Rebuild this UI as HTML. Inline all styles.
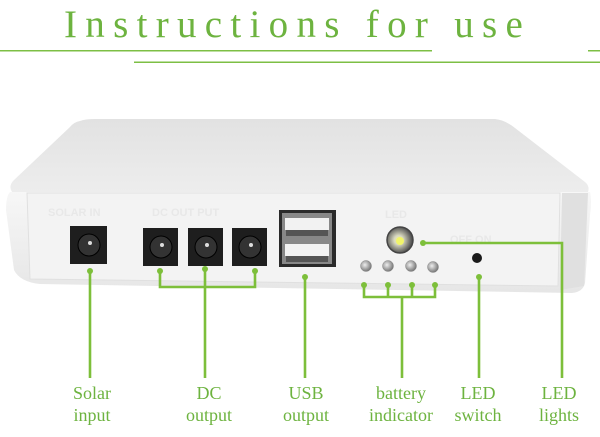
<!DOCTYPE html>
<html><head><meta charset="utf-8"><style>
html,body{margin:0;padding:0;background:#fff;width:600px;height:437px;overflow:hidden}
svg{display:block}
</style></head><body>
<svg width="600" height="437" viewBox="0 0 600 437" xmlns="http://www.w3.org/2000/svg">
<defs>
<linearGradient id="top" x1="0" y1="0" x2="0" y2="1"><stop offset="0" stop-color="#e2e2e2"/><stop offset="1" stop-color="#ededed"/></linearGradient>
<linearGradient id="front" x1="0" y1="0" x2="0" y2="1"><stop offset="0" stop-color="#f7f7f7"/><stop offset="1" stop-color="#e6e6e6"/></linearGradient>
<radialGradient id="led" cx="0.45" cy="0.5" r="0.5"><stop offset="0" stop-color="#f4f59a"/><stop offset="0.35" stop-color="#d8d8c0"/><stop offset="1" stop-color="#555"/></radialGradient>
<radialGradient id="bl" cx="0.4" cy="0.4" r="0.6"><stop offset="0" stop-color="#eee"/><stop offset="1" stop-color="#777"/></radialGradient>
</defs>
<text x="64" y="37" font-family="Liberation Serif, serif" font-size="39" fill="#6db33f" letter-spacing="8.3">Instructions for use</text>
<rect x="0" y="50" width="432" height="1.5" fill="#7dbf45"/>
<rect x="588" y="50" width="12" height="1.5" fill="#7dbf45"/>
<rect x="134" y="61.5" width="466" height="1.5" fill="#7dbf45"/>
<!-- box -->
<path d="M80 121 Q85 119 95 119 L495 119 Q505 120 515 128 L585 182 Q590 186 588 192 L12 192 Q8 186 14 180 L70 127 Q74 122 80 121Z" fill="url(#top)"/>
<path d="M10 192 L590 192 Q592 200 590 215 L585 283 Q583 292 572 293 L40 284 Q20 282 14 270 L6 210 Q6 196 10 192Z" fill="url(#front)"/>
<path d="M27 193 L560 193 L558 286 L30 279Z" fill="#f3f3f3" stroke="#e0e0e0" stroke-width="1"/>
<path d="M562 193 L588 193 L584 286 L560 290Z" fill="#e0e0e0"/>
<g font-family="Liberation Sans, sans-serif" font-size="11" font-weight="bold" fill="#e8e8e8">
<text x="48" y="216">SOLAR IN</text><text x="152" y="216">DC OUT PUT</text><text x="385" y="218">LED</text><text x="450" y="243">OFF ON</text></g>
<!-- jacks -->
<g fill="#1e1e1e">
<rect x="70" y="226" width="37" height="38"/>
<rect x="143" y="228" width="35" height="38"/>
<rect x="188" y="228" width="35" height="38"/>
<rect x="232" y="228" width="35" height="38"/>
</g>
<g fill="#333" stroke="#000"><circle cx="89" cy="245" r="11"/><circle cx="161" cy="247" r="11"/><circle cx="206" cy="247" r="11"/><circle cx="250" cy="247" r="11"/></g>
<g fill="#ddd"><circle cx="90" cy="243" r="2"/><circle cx="162" cy="245" r="2"/><circle cx="207" cy="245" r="2"/><circle cx="251" cy="245" r="2"/></g>
<!-- USB -->
<rect x="279" y="210" width="57" height="57" fill="#2a2a2a"/>
<rect x="282" y="213" width="50" height="51" fill="#888"/>
<rect x="285" y="218" width="44" height="12" fill="#f2f2f2"/><rect x="286" y="230" width="42" height="6" fill="#555"/>
<rect x="285" y="244" width="44" height="12" fill="#f2f2f2"/><rect x="286" y="256" width="42" height="6" fill="#555"/>
<!-- LED -->
<circle cx="400" cy="240" r="13" fill="url(#led)" stroke="#444" stroke-width="1.5"/>
<circle cx="400" cy="241" r="4" fill="#f1f56a"/>
<g fill="url(#bl)" stroke="#888" stroke-width="0.5"><circle cx="366" cy="266" r="5.5"/><circle cx="388" cy="266" r="5.5"/><circle cx="411" cy="266" r="5.5"/><circle cx="433" cy="267" r="5.5"/></g>
<circle cx="477" cy="258" r="5" fill="#1a1a1a"/>
<!-- connectors -->
<g stroke="#7dbf3a" stroke-width="2.6" fill="none">
<path d="M90 271 V378"/>
<path d="M160 271 V287 H255 V271 M205 269 V378"/>
<path d="M305 277 V378"/>
<path d="M364 285 V297 H435 V285 M388 285 V297 M412 285 V297 M402 297 V378"/>
<path d="M479 277 V378"/>
<path d="M423 243 H562 V378"/>
</g>
<g fill="#7dbf3a"><circle cx="90" cy="271" r="3"/><circle cx="160" cy="271" r="3"/><circle cx="205" cy="269" r="3"/><circle cx="255" cy="271" r="3"/><circle cx="305" cy="277" r="3"/><circle cx="364" cy="285" r="3"/><circle cx="388" cy="285" r="3"/><circle cx="412" cy="285" r="3"/><circle cx="435" cy="285" r="3"/><circle cx="479" cy="277" r="3"/><circle cx="423" cy="243" r="3"/></g>
<g font-family="Liberation Serif, serif" font-size="18" fill="#6db33f" text-anchor="middle">
<text x="92" y="399">Solar</text><text x="92" y="421">input</text>
<text x="209" y="399">DC</text><text x="209" y="421">output</text>
<text x="306" y="399">USB</text><text x="306" y="421">output</text>
<text x="401" y="399">battery</text><text x="401" y="421">indicator</text>
<text x="478" y="399">LED</text><text x="478" y="421">switch</text>
<text x="559" y="399">LED</text><text x="559" y="421">lights</text>
</g>
</svg>
</body></html>
